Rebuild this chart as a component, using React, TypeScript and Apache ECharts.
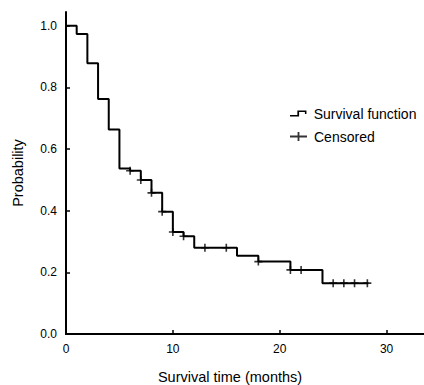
import React, { useEffect, useRef } from "react";
import * as echarts from "echarts";

const survivalTimes = [0, 1, 2, 3, 4, 5, 6, 7, 8, 9, 10, 11, 12, 16, 18, 21, 24, 28.3];
const survivalProb = [1.0, 0.974, 0.879, 0.763, 0.664, 0.537, 0.53, 0.5, 0.458, 0.397, 0.331, 0.317, 0.28, 0.254, 0.235, 0.208, 0.165, 0.165];
const censorTimes = [6, 7, 8, 9, 10, 11, 13, 15, 18, 21, 22, 25, 26, 27, 28.2];
const censorProb = [0.53, 0.5, 0.458, 0.397, 0.331, 0.317, 0.28, 0.28, 0.235, 0.208, 0.208, 0.165, 0.165, 0.165, 0.165];
const xTicks = [0, 10, 20, 30];
const yTicks = [0, 0.2, 0.4, 0.6, 0.8, 1.0];

const FONT = "'Liberation Sans', Arial, sans-serif";
const PLUS = "path://M7.6,0H9.4V3.6H17V5.4H9.4V9H7.6V5.4H0V3.6H7.6Z";
const STEP = "path://M0,4.6H7.6V0H17V3.5H15.4V1.5H9.4V6.2H0Z";
const MARK = "path://M3.2,0H4.8V3.2H8V4.8H4.8V8H3.2V4.8H0V3.2H3.2Z";

export default function App() {
  const ref = useRef<HTMLDivElement>(null);
  useEffect(() => {
    document.body.style.margin = "0";
    const chart = echarts.init(ref.current!, null, { renderer: "svg" });
    chart.setOption({
      animation: false,
      backgroundColor: "#ffffff",
      grid: { left: 66, right: 0, top: 12, bottom: 51, containLabel: false, outerBoundsMode: "none" },
      legend: [
        {
          data: [{ name: "Survival function", icon: STEP }],
          left: 285,
          top: 101.5,
          itemWidth: 17,
          itemHeight: 6,
          textStyle: { fontFamily: FONT, fontSize: 14, color: "#000", padding: [0, 0, 0, 2] },
          selectedMode: false,
        },
        {
          data: [{ name: "Censored", icon: PLUS }],
          left: 285,
          top: 124.5,
          itemWidth: 17,
          itemHeight: 9,
          textStyle: { fontFamily: FONT, fontSize: 14, color: "#000", padding: [0, 0, 0, 2] },
          selectedMode: false,
        },
      ],
      xAxis: {
        type: "value",
        min: 0,
        max: 33.5,
        name: "Survival time (months)",
        nameLocation: "middle",
        nameGap: 35.5,
        nameTextStyle: { fontFamily: FONT, fontSize: 14.5, color: "#000", padding: [0, 30, 0, 0] },
        splitLine: { show: false },
        axisLine: { lineStyle: { color: "#000", width: 2 } },
        axisTick: { inside: true, length: 4, customValues: xTicks, lineStyle: { color: "#000", width: 1.5 } },
        axisLabel: { customValues: xTicks, margin: 9, fontFamily: FONT, fontSize: 12, color: "#000" },
      },
      yAxis: {
        type: "value",
        min: 0,
        max: 1.045,
        name: "Probability",
        nameLocation: "middle",
        nameGap: 41,
        nameTextStyle: { fontFamily: FONT, fontSize: 14.5, color: "#000" },
        splitLine: { show: false },
        axisLine: { lineStyle: { color: "#000", width: 2 } },
        axisTick: { inside: true, length: 4, customValues: yTicks, lineStyle: { color: "#000", width: 1.5 } },
        axisLabel: {
          customValues: yTicks,
          margin: 9,
          fontFamily: FONT,
          fontSize: 12,
          color: "#000",
          formatter: (v: number) => v.toFixed(1),
        },
      },
      series: [
        {
          name: "Survival function",
          type: "line",
          step: "end",
          data: survivalTimes.map((t, i) => [t, survivalProb[i]]),
          showSymbol: false,
          lineStyle: { color: "#000", width: 2 },
          itemStyle: { color: "#000" },
        },
        {
          name: "Censored",
          type: "scatter",
          data: censorTimes.map((t, i) => [t, censorProb[i]]),
          symbol: MARK,
          symbolSize: 8,
          itemStyle: { color: "#000" },
        },
      ],
    });
    return () => chart.dispose();
  }, []);
  return <div ref={ref} style={{ width: 424, height: 385 }} />;
}
